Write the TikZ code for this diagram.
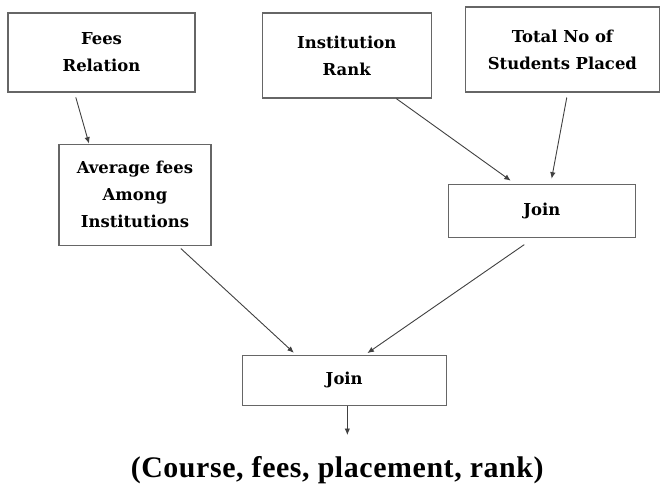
\documentclass[tikz,border=0pt]{standalone}
\usepackage{fontspec}
\setmainfont{DejaVu Serif}
\newfontfamily\captionfont[LetterSpace=2]{Liberation Serif}
\usetikzlibrary{positioning,arrows.meta}

\begin{document}
\begin{tikzpicture}[x=1bp,y=1bp,
		box/.style={draw=black!60,line width=1.2bp,align=center,inner sep=0pt,
			font=\bfseries\fontsize{16.5}{27}\selectfont},
		arr/.style={draw=black!75,line width=0.9bp,-{Latex[length=6.5bp,width=5.5bp]}}]
	\useasboundingbox (0,0) rectangle (660,485);
		\begin{scope}
			\node(1) [box,minimum width=187bp,minimum height=79bp] at (101.5,432.5) {Fees\\Relation};
			\node(2) [box,minimum width=152bp,minimum height=101bp,below right=51bp and 51bp of 1.south west,anchor=north west] {Average fees\\Among\\Institutions};
			\node(3) [box,minimum width=169bp,minimum height=85bp,right=66bp of 1.north east,anchor=north west] {Institution\\Rank};
			\node(4) [box,minimum width=194bp,minimum height=85bp,above right=6bp and 33bp of 3.north east,anchor=north west] {Total No of\\Students Placed};
			\node(5) [box,minimum width=187bp,minimum height=53bp,below left=91bp and 17bp of 4.south west,anchor=north west] {Join};
			\node(6) [box,minimum width=204bp,minimum height=50bp,below right=109bp and 30bp of 2.south east,anchor=north west] {Join};
			\node(7) [below=71bp of 6.south,anchor=base,xshift=-7bp,inner sep=0pt,
				font=\captionfont\bfseries\fontsize{30}{36}\selectfont] {(Course, fees, placement, rank)};
			\coordinate[below=29bp of 6.277] (8);
			\path
				(1.236) edge[arr,shorten <=5bp] (2.132)
				(3.319) edge[arr,shorten >=5bp] (5.135)
				(4.277) edge[arr,shorten <=5bp,shorten >=5bp] (5.72)
				(2.310) edge[arr,shorten <=4bp,shorten >=3bp] (6.152)
				(5.254) edge[arr,shorten <=12bp,shorten >=3bp] (6.51)
				(6.277) edge[arr] (8);
		\end{scope}
\end{tikzpicture}
\end{document}
